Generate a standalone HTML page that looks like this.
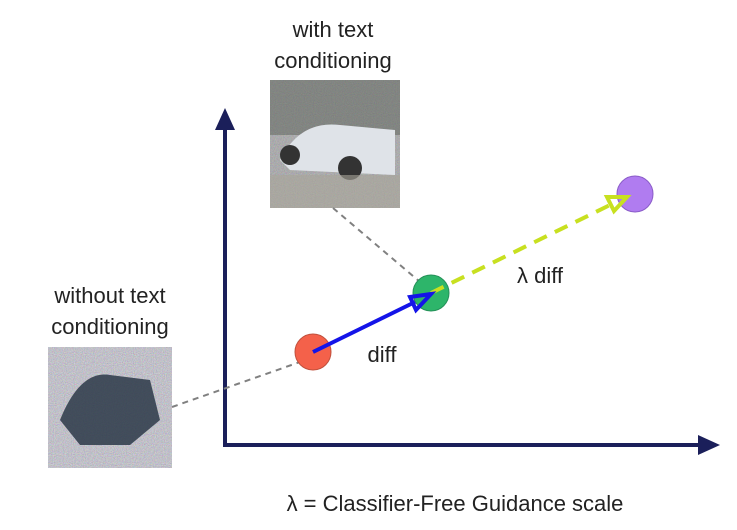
<!DOCTYPE html>
<html><head><style>
body{margin:0;background:#fff;width:737px;height:525px;overflow:hidden;font-family:"Liberation Sans",sans-serif}
</style></head><body>
<svg width="737" height="525" xmlns="http://www.w3.org/2000/svg">
<defs>
<filter id="n" x="0" y="0" width="1" height="1"><feTurbulence type="fractalNoise" baseFrequency="0.9" numOctaves="2" seed="3"/><feColorMatrix type="matrix" values="0.8 0 0 0 0.2  0 0.8 0 0 0.2  0 0 0.8 0 0.25  0 0 0 0 1"/></filter>
</defs>
<!-- top image -->
<rect x="270" y="80" width="130" height="128" fill="#8a8a86"/>
<rect x="270" y="80" width="130" height="128" filter="url(#n)" opacity="0.5"/>
<rect x="270" y="80" width="130" height="55" fill="#5a5f58" opacity="0.5"/>
<path d="M280 160 Q300 120 340 125 L395 130 L395 175 L290 170 Z" fill="#dfe3e8"/>
<circle cx="290" cy="155" r="10" fill="#333"/><circle cx="350" cy="168" r="12" fill="#333"/>
<rect x="270" y="175" width="130" height="33" fill="#a9a59a" opacity="0.6"/>
<!-- left image -->
<rect x="48" y="347" width="124" height="121" fill="#a8a6b0"/>
<rect x="48" y="347" width="124" height="121" filter="url(#n)" opacity="0.7"/>
<path d="M60 420 Q80 370 110 375 L150 380 L160 420 L130 445 L80 445 Z" fill="#2c3848" opacity="0.85"/>
<!-- axes -->
<line x1="225" y1="445" x2="225" y2="125" stroke="#1b1f5a" stroke-width="4"/>
<polygon points="225,108 215,130 235,130" fill="#1b1f5a"/>
<line x1="223" y1="445" x2="700" y2="445" stroke="#1b1f5a" stroke-width="4"/>
<polygon points="720,445 698,435 698,455" fill="#1b1f5a"/>
<!-- dashed gray -->
<line x1="172" y1="407" x2="300" y2="362" stroke="#808080" stroke-width="2" stroke-dasharray="6,5"/>
<line x1="333" y1="208" x2="420" y2="282" stroke="#808080" stroke-width="2" stroke-dasharray="6,5"/>
<!-- circles -->
<circle cx="313" cy="352" r="18" fill="#f4614a" stroke="#c0503c"/>
<circle cx="431" cy="293" r="18" fill="#2db56a" stroke="#249058"/>
<circle cx="635" cy="194" r="18" fill="#b07cf0" stroke="#8a5cc8"/>
<!-- yellow dashed arrow -->
<line x1="431" y1="293" x2="612" y2="204" stroke="#c8e020" stroke-width="4" stroke-dasharray="14,9"/>
<polygon points="627,197 607,197 614,211" fill="none" stroke="#c8e020" stroke-width="4"/>
<!-- blue arrow -->
<line x1="313" y1="352" x2="415" y2="302" stroke="#1414e8" stroke-width="4"/>
<polygon points="431,294 410,297 416,310" fill="none" stroke="#1414e8" stroke-width="4"/>
<!-- text -->
<g font-family="Liberation Sans, sans-serif" font-size="22" fill="#222" text-anchor="middle">
<text x="333" y="37">with text</text>
<text x="333" y="68">conditioning</text>
<text x="110" y="303">without text</text>
<text x="110" y="334">conditioning</text>
<text x="382" y="362">diff</text>
<text x="540" y="283">λ diff</text>
<text x="455" y="511">λ = Classifier-Free Guidance scale</text>
</g>
</svg>
</body></html>
